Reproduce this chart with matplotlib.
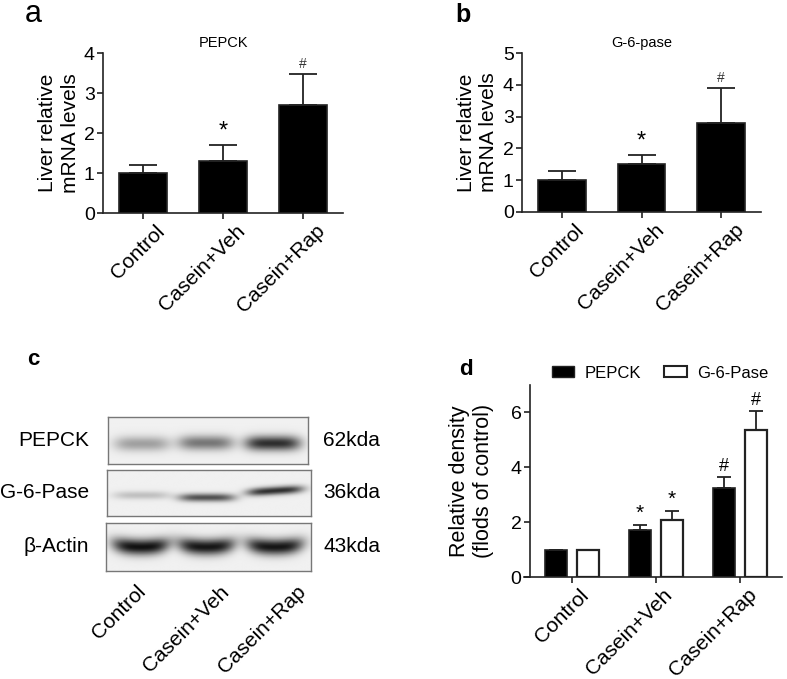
import numpy as np
import matplotlib
matplotlib.use("Agg")
import matplotlib.pyplot as plt
import matplotlib.transforms as mtransforms
from matplotlib.patches import Patch

plt.rcParams['font.family'] = ['Liberation Sans', 'DejaVu Sans']

groups = ["Control", "Casein+Veh", "Casein+Rap"]

# panel a - PEPCK mRNA
pepck_mrna = [1.0, 1.29, 2.69]
pepck_mrna_top = [1.19, 1.69, 3.48]
pepck_mrna_marks = ["", "*", "#"]

# panel b - G-6-pase mRNA
g6p_mrna = [1.0, 1.5, 2.8]
g6p_mrna_top = [1.29, 1.78, 3.9]
g6p_mrna_marks = ["", "*", "#"]

# panel c - blot band darkness per lane
blot_rows = ["PEPCK", "G-6-Pase", "\u03b2-Actin"]
blot_kda = ["62kda", "36kda", "43kda"]
band_dark = [[0.33, 0.50, 0.80],
             [0.20, 0.66, 0.80],
             [0.92, 0.90, 0.90]]
band_ypos = [[0.57, 0.55, 0.56],
             [0.55, 0.60, 0.45],
             [0.50, 0.50, 0.50]]
band_sigma = [0.16, 0.09, 0.17]

# panel d - densitometry
pepck_dens = [1.0, 1.70, 3.26]
pepck_dens_top = [1.0, 1.89, 3.64]
g6p_dens = [1.0, 2.06, 5.35]
g6p_dens_top = [1.0, 2.39, 6.05]
pepck_dens_marks = ["", "*", "#"]
g6p_dens_marks = ["", "*", "#"]

W, H = 787, 679
fig = plt.figure(figsize=(W / 100, H / 100), dpi=100)


def px_axes(x0, y0, x1, y1):
    return fig.add_axes([x0 / W, 1 - y1 / H, (x1 - x0) / W, (y1 - y0) / H])


def style_axes(ax):
    for s in ["top", "right"]:
        ax.spines[s].set_visible(False)
    for s in ["left", "bottom"]:
        ax.spines[s].set_linewidth(1.2)
        ax.spines[s].set_color("#222222")
    ax.tick_params(axis="both", width=1.2, length=4, color="#222222",
                   direction="out", pad=2)
    ax.tick_params(axis="y", labelsize=14)


def set_group_labels(ax, dx, dy):
    ax.set_xticks(np.arange(len(groups)))
    ax.set_xticklabels(groups, rotation=45, ha="right", rotation_mode="anchor",
                       fontsize=15)
    off = mtransforms.ScaledTranslation(dx / 72, dy / 72, fig.dpi_scale_trans)
    for lab in ax.get_xticklabels():
        lab.set_transform(lab.get_transform() + off)


def mrna_panel(ax, vals, tops, marks, ymax, title):
    x = np.arange(len(groups))
    err = np.array(tops) - np.array(vals)
    ax.bar(x, vals, width=0.6, color="black", edgecolor="#222222", linewidth=1.2,
           yerr=[np.zeros(len(vals)), err],
           error_kw=dict(ecolor="#222222", elinewidth=1.3, capsize=10, capthick=1.3),
           zorder=2)
    for xi, t, m in zip(x, tops, marks):
        if m == "*":
            ax.text(xi, t + 0.08 * ymax / 4, m, ha="center", va="bottom", fontsize=17)
        elif m == "#":
            ax.text(xi, t + 0.08 * ymax / 4, m, ha="center", va="bottom", fontsize=10,
                    color="#333333")
    ax.set_xlim(-0.5, 2.5)
    ax.set_ylim(0, ymax)
    ax.set_yticks(range(ymax + 1))
    ax.set_ylabel("Liver relative\nmRNA levels", fontsize=15, linespacing=1.25,
                  labelpad=3)
    ax.set_title(title, fontsize=10.5, pad=4)
    style_axes(ax)
    set_group_labels(ax, 9, 0)


ax_a = px_axes(103, 53, 343, 213)
mrna_panel(ax_a, pepck_mrna, pepck_mrna_top, pepck_mrna_marks, 4, "PEPCK")
ax_b = px_axes(522, 53, 761, 212)
mrna_panel(ax_b, g6p_mrna, g6p_mrna_top, g6p_mrna_marks, 5, "G-6-pase")

# panel c - western blot
boxes = [(108, 417, 308, 464), (107, 470, 311, 516), (106, 523, 311, 571)]
lane_cx = [0.17, 0.49, 0.825]
lane_hw = 0.14
for r, (box, name, kda) in enumerate(zip(boxes, blot_rows, blot_kda)):
    ax = px_axes(*box)
    nx, ny = 300, 80
    xx, yy = np.meshgrid(np.linspace(0, 1, nx), np.linspace(0, 1, ny))
    img = np.full((ny, nx), 0.06)
    for li in range(3):
        dx = (xx - lane_cx[li]) / lane_hw
        xprof = np.exp(-np.abs(dx) ** 4)
        yc = band_ypos[r][li]
        if r == 1 and li == 2:
            yc = yc - 0.04 * dx
        if r == 2:
            yc = yc - 0.07 * dx ** 2
        yprof = np.exp(-((yy - yc) / band_sigma[r]) ** 2)
        img = img + band_dark[r][li] * xprof * yprof
    img = np.clip(img, 0, 1)
    ax.imshow(img, cmap="gray_r", vmin=0, vmax=1.05, aspect="auto",
              interpolation="bilinear", extent=(0, 1, 1, 0))
    ax.set_xticks([])
    ax.set_yticks([])
    for s in ax.spines.values():
        s.set_color("#777777")
        s.set_linewidth(1.0)
    cy = 1 - (box[1] + box[3]) / 2 / H
    fig.text(89 / W, cy, name, ha="right", va="center", fontsize=15)
    fig.text(323 / W, cy, kda, ha="left", va="center", fontsize=15)

for gx, g in zip([136, 219, 296], groups):
    fig.text(gx / W, 1 - 582 / H, g, rotation=45, ha="right", va="top",
             rotation_mode="anchor", fontsize=15)

# panel d - densitometry
ax_d = px_axes(524, 385, 782, 577)
x = np.arange(len(groups))
off, bw = 0.19, 0.26
pe = np.array(pepck_dens_top) - np.array(pepck_dens)
ge = np.array(g6p_dens_top) - np.array(g6p_dens)
ekw = dict(ecolor="#222222", elinewidth=1.3, capsize=5, capthick=1.3)
ax_d.bar(x - off, pepck_dens, width=bw, color="black", edgecolor="#222222",
         linewidth=1.2, yerr=[np.zeros(3), pe], error_kw=ekw, label="PEPCK")
ax_d.bar(x + off, g6p_dens, width=bw, color="white", edgecolor="#222222",
         linewidth=1.6, yerr=[np.zeros(3), ge], error_kw=ekw, label="G-6-Pase")
for xs, tops, marks in [(x - off, pepck_dens_top, pepck_dens_marks),
                        (x + off, g6p_dens_top, g6p_dens_marks)]:
    for xi, t, m in zip(xs, tops, marks):
        if m:
            ax_d.text(xi, t + 0.08, m, ha="center", va="bottom",
                      fontsize=15 if m == "*" else 13)
ax_d.set_xlim(-0.57, 2.5)
ax_d.set_ylim(0, 7)
ax_d.set_yticks([0, 2, 4, 6])
ax_d.set_ylabel("Relative density\n(flods of control)", fontsize=15.5,
                linespacing=1.2, labelpad=12)
style_axes(ax_d)
ax_d.spines["left"].set_position(("data", -0.5))
set_group_labels(ax_d, 5, 0)
fig.legend(handles=[Patch(facecolor="black", edgecolor="#222222", label="PEPCK"),
                    Patch(facecolor="white", edgecolor="#222222", linewidth=1.5,
                          label="G-6-Pase")],
           loc="center", bbox_to_anchor=(660 / W, 1 - 373 / H), ncol=2,
           frameon=False, fontsize=12, handlelength=1.35, handleheight=0.65,
           columnspacing=1.4, handletextpad=0.6)

# panel letters
for lx, ly, lab, fs, fw in [(25, 22, "a", 22, "normal"), (455, 22, "b", 18, "bold"),
                            (27, 365, "c", 16, "bold"), (459, 375, "d", 16, "bold")]:
    fig.text(lx / W, 1 - ly / H, lab, fontsize=fs, fontweight=fw,
             ha="left", va="baseline")

fig.savefig("out.png", dpi=100)
